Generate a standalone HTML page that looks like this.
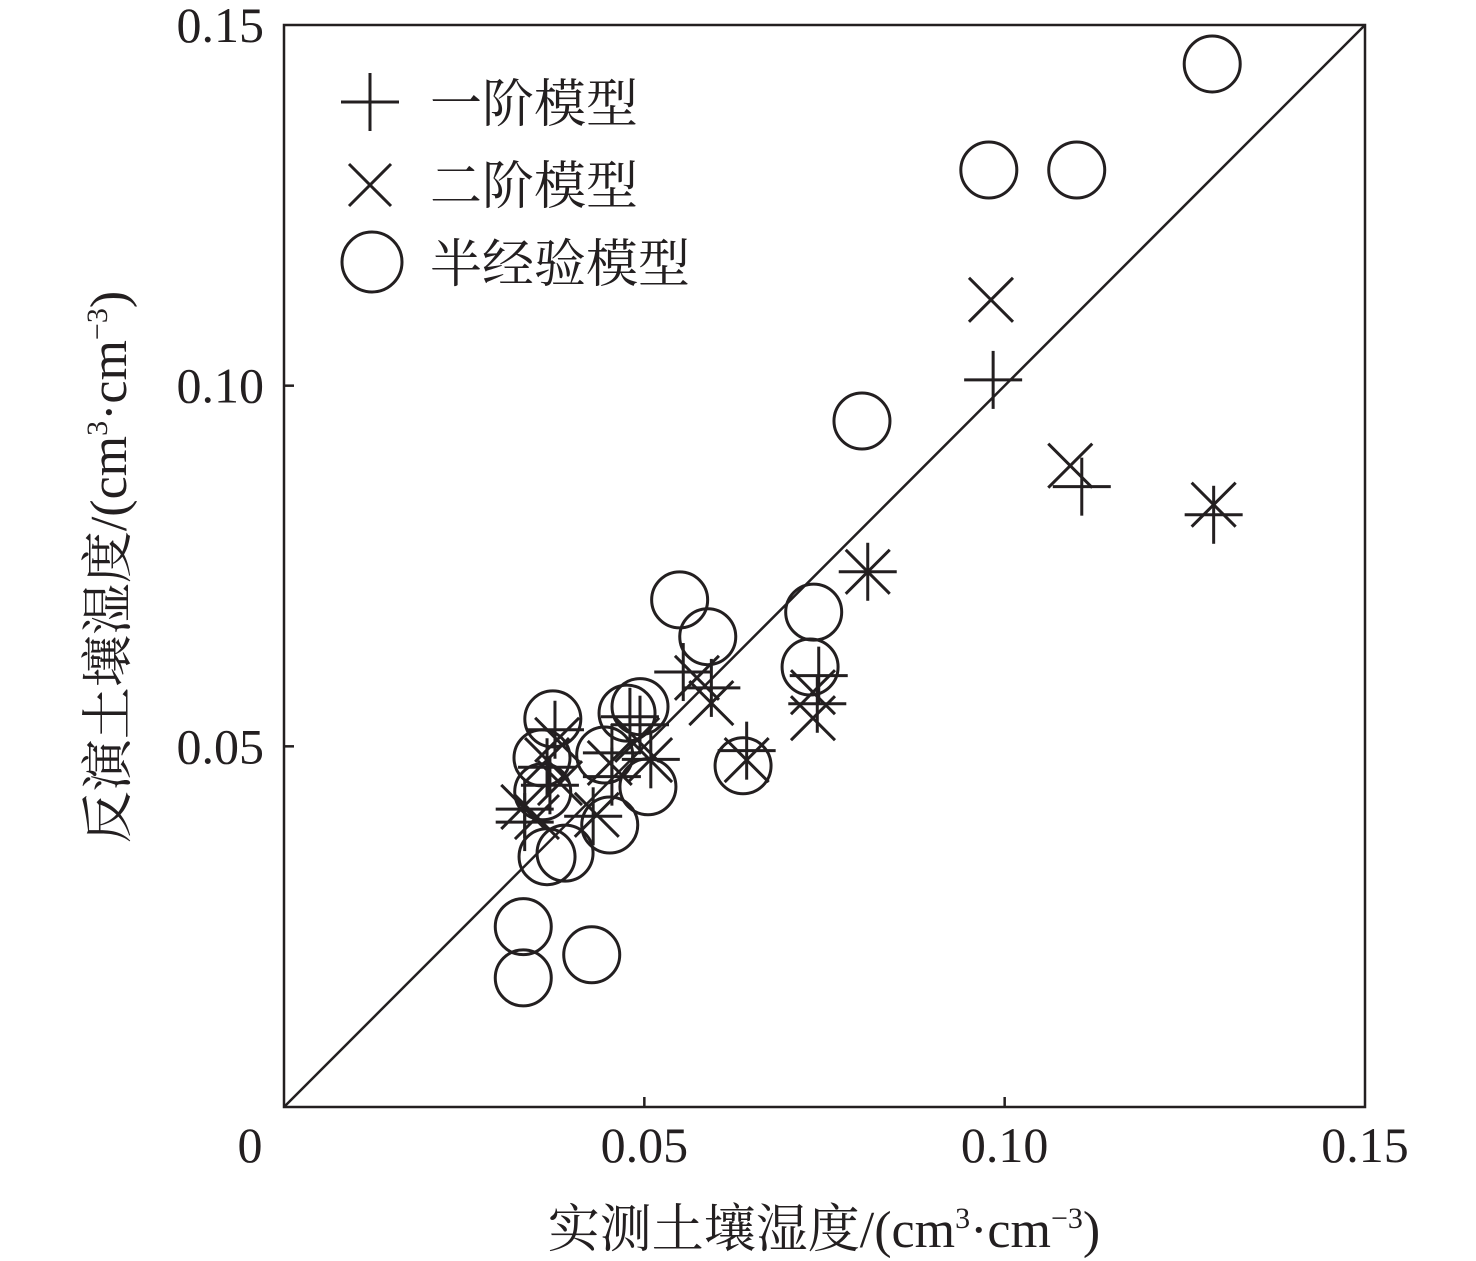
<!DOCTYPE html>
<html><head><meta charset="utf-8"><style>
html,body{margin:0;padding:0;background:#fff;}
svg{display:block;}
text{font-family:"Liberation Serif","Noto Serif CJK SC",serif;fill:#231f20;}
</style></head><body>
<svg id="chart" width="1476" height="1261" viewBox="0 0 1476 1261">
<g id="plot"></g>
</svg>
<script>
const xTicks=[0,0.05,0.10,0.15];
const xTickLabels=["0","0.05","0.10","0.15"];
const yTicks=[0.05,0.10,0.15];
const yTickLabels=["0.05","0.10","0.15"];
const circleX=[.1288,.0978,.1100,.0802,.0549,.0588,.0735,.0730,.0373,.0476,.0494,.0358,.0445,.0505,.0359,.0452,.0365,.0390,.0637,.0332,.0332,.0427];
const circleY=[.1446,.1299,.1299,.0951,.0703,.0652,.0686,.0610,.0538,.0546,.0555,.0484,.0488,.0444,.0437,.0391,.0347,.0352,.0473,.0250,.0179,.0211];
const plusX=[.0984,.1107,.1290,.0810,.0554,.0593,.0742,.0740,.0642,.0509,.0494,.0480,.0455,.0455,.0429,.0376,.0365,.0369,.0334,.0334];
const plusY=[.1008,.0860,.0821,.0742,.0603,.0581,.0598,.0559,.0494,.0482,.0530,.0541,.0491,.0458,.0403,.0523,.0471,.0446,.0413,.0395];
const crossX=[.0981,.1091,.1290,.0810,.0734,.0734,.0593,.0573,.0642,.0508,.0490,.0452,.0434,.0379,.0365,.0383,.0332,.0351];
const crossY=[.1119,.0889,.0835,.0742,.0539,.0575,.0560,.0595,.0481,.0481,.0509,.0477,.0405,.0509,.0481,.0449,.0416,.0402];

const X0=284,X1=1365,Y0=1107,Y1=25;
const sx=v=>X0+(X1-X0)*v/0.15;
const sy=v=>Y0-(Y0-Y1)*v/0.15;
const NS="http://www.w3.org/2000/svg";
const svg=document.getElementById('chart');
const plot=document.getElementById('plot');
function mk(tag,attrs,parent){const e=document.createElementNS(NS,tag);for(const k in attrs)e.setAttribute(k,attrs[k]);(parent||svg).appendChild(e);return e;}
const st={stroke:"#231f20","stroke-width":3,fill:"none"};

const frame=mk('rect',Object.assign({x:X0,y:Y1,width:X1-X0,height:Y0-Y1},st,{"stroke-width":2.5}));


const diag=mk('line',Object.assign({x1:sx(0),y1:sy(0),x2:sx(0.15),y2:sy(0.15)},st,{"stroke-width":2.5}));



xTicks.forEach((t,i)=>{
  if(i>0&&i<xTicks.length-1){const tk=mk('line',Object.assign({x1:sx(t),y1:Y0,x2:sx(t),y2:Y0-10},st,{"stroke-width":2.5}));
  
  }
  const tx=mk('text',{x:i===0?250:sx(t),y:1162,"font-size":50,"text-anchor":"middle"});
  tx.textContent=xTickLabels[i];
  
  
});
yTicks.forEach((t,i)=>{
  if(i<yTicks.length-1){const tk=mk('line',Object.assign({x1:X0,y1:sy(t),x2:X0+10,y2:sy(t)},st,{"stroke-width":2.5}));
  
  }
  const tx=mk('text',{x:264,y:sy(t)+17,"font-size":50,"text-anchor":"end"});
  tx.textContent=yTickLabels[i];
  
  
});

function plus(cx,cy,h,name,parent){const g=mk('g',{},parent);
  mk('line',Object.assign({x1:cx-h,y1:cy,x2:cx+h,y2:cy},st),g);mk('line',Object.assign({x1:cx,y1:cy-h,x2:cx,y2:cy+h},st),g);return g;}
function cross(cx,cy,h,name,parent){const g=mk('g',{},parent);
  mk('line',Object.assign({x1:cx-h,y1:cy-h,x2:cx+h,y2:cy+h},st),g);mk('line',Object.assign({x1:cx-h,y1:cy+h,x2:cx+h,y2:cy-h},st),g);return g;}

circleX.forEach((v,i)=>{const c=mk('circle',Object.assign({cx:sx(v),cy:sy(circleY[i]),r:28},st),plot);
  
  });
plusX.forEach((v,i)=>{plus(sx(v),sy(plusY[i]),29,'first-order-point',plot);});
crossX.forEach((v,i)=>{cross(sx(v),sy(crossY[i]),22,'second-order-point',plot);});

const leg=mk('g',{});


plus(370,102,29,'legend-symbol-first-order',leg);
cross(370,185,21,'legend-symbol-second-order',leg);
const lc=mk('circle',Object.assign({cx:372,cy:262,r:30},st),leg);


[["一阶模型",122],["二阶模型",204],["半经验模型",282]].forEach(([t,y])=>{
  const tx=mk('text',{x:430,y:y,"font-size":52},leg);tx.textContent=t;
  
  
});
</script>
<svg style="position:absolute;left:0;top:0" width="1476" height="1261">
<text x="824" y="1247" font-size="52" text-anchor="middle">实测土壤湿度/(cm<tspan font-size="30" dy="-19">3</tspan><tspan dy="19">·cm</tspan><tspan font-size="30" dy="-19">−3</tspan><tspan dy="19">)</tspan></text>
<text transform="translate(126,567) rotate(-90)" font-size="52" text-anchor="middle">反演土壤湿度/(cm<tspan font-size="30" dy="-19">3</tspan><tspan dy="19">·cm</tspan><tspan font-size="30" dy="-19">−3</tspan><tspan dy="19">)</tspan></text>
</svg>
</body></html>
